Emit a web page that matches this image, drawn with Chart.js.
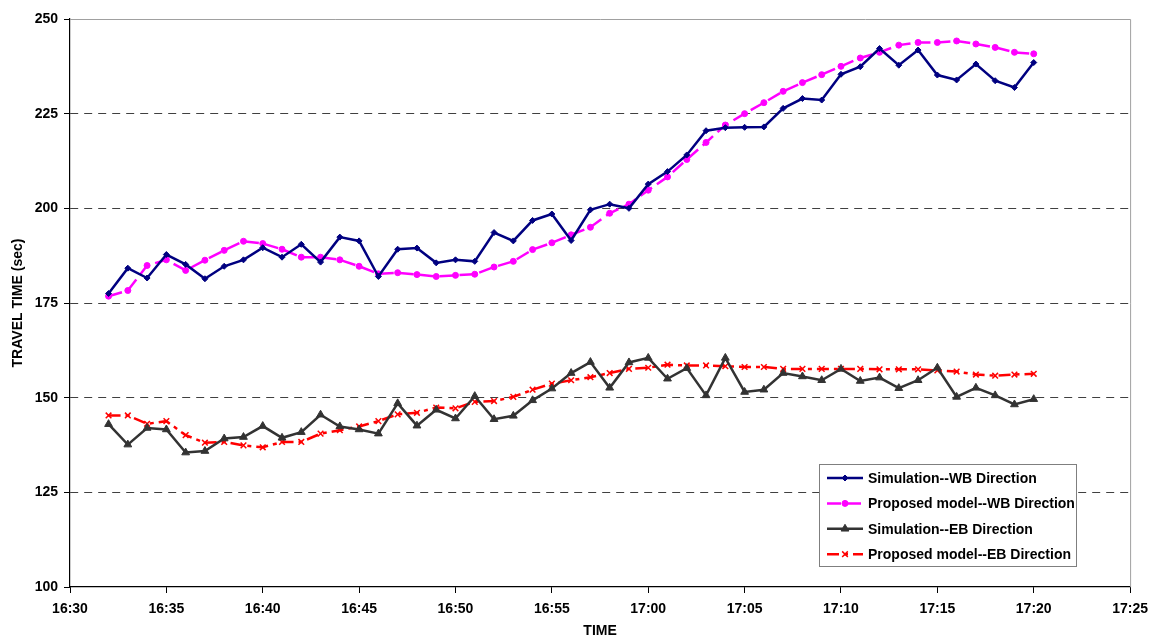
<!DOCTYPE html>
<html>
<head>
<meta charset="utf-8">
<title>Travel time</title>
<script src="https://cdn.jsdelivr.net/npm/chart.js@4/dist/chart.umd.min.js"></script>
<style>
  html, body { margin: 0; padding: 0; background: #fff; }
  #wrap { width: 1156px; height: 640px; }
</style>
</head>
<body>
<div id="wrap"><canvas id="grafico" width="1156" height="640"></canvas></div>
<script>
const times = [
  "16:32", "16:33", "16:34", "16:35", "16:36", "16:37", "16:38", "16:39",
  "16:40", "16:41", "16:42", "16:43", "16:44", "16:45", "16:46", "16:47",
  "16:48", "16:49", "16:50", "16:51", "16:52", "16:53", "16:54", "16:55",
  "16:56", "16:57", "16:58", "16:59", "17:00", "17:01", "17:02", "17:03",
  "17:04", "17:05", "17:06", "17:07", "17:08", "17:09", "17:10", "17:11",
  "17:12", "17:13", "17:14", "17:15", "17:16", "17:17", "17:18", "17:19",
  "17:20"
];

const wbSim = [
  177.5, 184.2, 181.6, 187.8, 185.2, 181.4, 184.7, 186.4,
  189.6, 187.1, 190.5, 185.8, 192.4, 191.4, 182.0, 189.2,
  189.5, 185.6, 186.4, 186.0, 193.6, 191.4, 196.8, 198.5,
  191.5, 199.6, 201.1, 200.0, 206.4, 209.7, 214.1, 220.5,
  221.3, 221.4, 221.5, 226.4, 229.0, 228.6, 235.4, 237.4,
  242.2, 237.8, 241.8, 235.2, 233.9, 238.1, 233.7, 231.9,
  238.5
];
const wbModel = [
  176.8, 178.3, 184.9, 186.4, 183.6, 186.3, 188.9, 191.3,
  190.7, 189.2, 187.1, 187.1, 186.4, 184.7, 182.7, 183.0,
  182.5, 182.0, 182.3, 182.6, 184.5, 186.0, 189.1, 190.9,
  193.0, 195.0, 198.7, 201.1, 204.8, 208.3, 212.9, 217.4,
  222.0, 225.0, 227.9, 230.9, 233.2, 235.3, 237.5, 239.7,
  241.2, 243.1, 243.8, 243.8, 244.2, 243.4, 242.5, 241.2,
  240.8
];
const ebSim = [
  143.0, 137.6, 142.0, 141.6, 135.5, 135.9, 139.2, 139.6,
  142.5, 139.4, 140.9, 145.5, 142.4, 141.6, 140.5, 148.5,
  142.6, 146.8, 144.5, 150.4, 144.3, 145.2, 149.3, 152.4,
  156.5, 159.4, 152.6, 159.3, 160.5, 155.0, 157.8, 150.6,
  160.5, 151.5, 152.1, 156.5, 155.6, 154.6, 157.6, 154.4,
  155.3, 152.5, 154.6, 157.9, 150.2, 152.6, 150.6, 148.2,
  149.6
];
const ebModel = [
  145.3, 145.3, 143.1, 143.8, 140.1, 138.1, 138.3, 137.4,
  136.9, 138.3, 138.3, 140.5, 141.4, 142.4, 143.8, 145.6,
  146.0, 147.4, 147.2, 148.9, 149.1, 150.2, 152.1, 153.7,
  154.6, 155.4, 156.5, 157.6, 157.9, 158.7, 158.5, 158.5,
  158.3, 158.1, 158.1, 157.6, 157.6, 157.6, 157.6, 157.6,
  157.5, 157.5, 157.5, 157.2, 156.9, 156.1, 155.8, 156.1,
  156.3
];

const seriesNames = [
  "Simulation--WB Direction",
  "Proposed model--WB Direction",
  "Simulation--EB Direction",
  "Proposed model--EB Direction"
];

const xTicks = ["16:30", "16:35", "16:40", "16:45", "16:50", "16:55",
                "17:00", "17:05", "17:10", "17:15", "17:20", "17:25"];
const yTicks = [100, 125, 150, 175, 200, 225, 250];

const FONT = "'Liberation Sans', Arial, sans-serif";

function toMin(s) {
  const p = s.split(":");
  return parseInt(p[0], 10) * 60 + parseInt(p[1], 10);
}
function fmtMin(m) {
  const h = Math.floor(m / 60);
  const mm = m % 60;
  return h + ":" + (mm < 10 ? "0" : "") + mm;
}
function points(values) {
  return times.map((t, i) => ({ x: toMin(t), y: values[i] }));
}

// light grey frame on top and right of the plot
const framePlugin = {
  id: "frame",
  beforeDatasetsDraw(chart) {
    const { ctx, chartArea: a } = chart;
    ctx.save();
    ctx.strokeStyle = "#a0a0a0";
    ctx.lineWidth = 1;
    ctx.beginPath();
    ctx.moveTo(a.left, a.top + 0.5);
    ctx.lineTo(a.right + 0.5, a.top + 0.5);
    ctx.lineTo(a.right + 0.5, a.bottom);
    ctx.stroke();
    ctx.restore();
  }
};

function marker(ctx, ds, x, y) {
  const opts = {
    pointStyle: ds.pointStyle,
    radius: ds.pointRadius,
    rotation: 0,
    borderWidth: ds.pointBorderWidth
  };
  ctx.save();
  ctx.setLineDash([]);
  ctx.fillStyle = ds.pointBackgroundColor;
  ctx.strokeStyle = ds.pointBorderColor;
  ctx.lineWidth = ds.pointBorderWidth;
  if (Chart.helpers && Chart.helpers.drawPoint) {
    Chart.helpers.drawPoint(ctx, opts, x, y);
  } else {
    ctx.beginPath();
    ctx.arc(x, y, ds.pointRadius, 0, Math.PI * 2);
    ctx.fill();
  }
  ctx.restore();
}

// boxed legend sitting inside the plot, lower right
const boxLegend = {
  id: "boxLegend",
  afterDraw(chart) {
    const ctx = chart.ctx;
    const box = { x: 819.5, y: 464.5, w: 257, h: 102 };
    ctx.save();
    ctx.fillStyle = "#fff";
    ctx.fillRect(box.x, box.y, box.w, box.h);
    ctx.strokeStyle = "#7f7f7f";
    ctx.lineWidth = 1;
    ctx.strokeRect(box.x, box.y, box.w, box.h);
    ctx.font = "bold 14px " + FONT;
    ctx.textBaseline = "middle";
    ctx.textAlign = "left";
    chart.data.datasets.forEach((ds, i) => {
      const y = 478 + i * 25.4;
      ctx.save();
      ctx.strokeStyle = ds.borderColor;
      ctx.lineWidth = ds.borderWidth;
      ctx.setLineDash(ds.borderDash || []);
      ctx.beginPath();
      ctx.moveTo(827, y);
      ctx.lineTo(863, y);
      ctx.stroke();
      ctx.restore();
      marker(ctx, ds, 845, y);
      ctx.fillStyle = "#000";
      ctx.fillText(ds.label, 868, y + 1);
    });
    ctx.restore();
  }
};

const chart = new Chart(document.getElementById("grafico"), {
  type: "line",
  data: {
    datasets: [
      {
        label: seriesNames[0],
        data: points(wbSim),
        borderColor: "#000080",
        borderWidth: 2.5,
        pointStyle: "rectRot",
        pointRadius: 3,
        pointBorderWidth: 1,
        pointBackgroundColor: "#000080",
        pointBorderColor: "#000080"
      },
      {
        label: seriesNames[1],
        data: points(wbModel),
        borderColor: "#ff00ff",
        borderWidth: 2.5,
        borderDash: [14, 6],
        pointStyle: "circle",
        pointRadius: 3,
        pointBorderWidth: 1,
        pointBackgroundColor: "#ff00ff",
        pointBorderColor: "#ff00ff"
      },
      {
        label: seriesNames[2],
        data: points(ebSim),
        borderColor: "#333333",
        borderWidth: 2.5,
        pointStyle: "triangle",
        pointRadius: 4.5,
        pointBorderWidth: 1,
        pointBackgroundColor: "#333333",
        pointBorderColor: "#333333"
      },
      {
        label: seriesNames[3],
        data: points(ebModel),
        borderColor: "#ff0000",
        borderWidth: 2.5,
        borderDash: [12, 5, 4, 5],
        pointStyle: "crossRot",
        pointRadius: 4,
        pointBorderWidth: 1.5,
        pointBackgroundColor: "#ff0000",
        pointBorderColor: "#ff0000"
      }
    ]
  },
  options: {
    responsive: false,
    animation: false,
    devicePixelRatio: 1,
    layout: { padding: { top: 19, right: 22, bottom: 0, left: 0 } },
    elements: { line: { tension: 0 } },
    plugins: {
      legend: { display: false },
      tooltip: { enabled: false }
    },
    scales: {
      x: {
        type: "linear",
        min: toMin(xTicks[0]),
        max: toMin(xTicks[xTicks.length - 1]),
        afterFit(scale) { scale.height = 53; },
        afterBuildTicks(scale) {
          scale.ticks = xTicks.map(t => ({ value: toMin(t) }));
        },
        ticks: {
          callback: v => fmtMin(v),
          color: "#000",
          padding: 8,
          maxRotation: 0,
          autoSkip: false,
          font: { family: FONT, size: 14, weight: "bold" }
        },
        grid: {
          drawOnChartArea: false,
          drawTicks: true,
          tickLength: 6,
          tickColor: "#000"
        },
        border: { display: true, color: "#000", width: 1.2 },
        title: {
          display: true,
          text: "TIME",
          color: "#000",
          padding: { top: 0, bottom: 0 },
          font: { family: FONT, size: 14, weight: "bold" }
        }
      },
      y: {
        min: yTicks[0],
        max: yTicks[yTicks.length - 1],
        afterFit(scale) { scale.width = 70; },
        afterBuildTicks(scale) {
          scale.ticks = yTicks.map(v => ({ value: v }));
        },
        ticks: {
          color: "#000",
          padding: 6,
          font: { family: FONT, size: 14, weight: "bold" }
        },
        grid: {
          color: ctx => (ctx.tick && ctx.tick.value === yTicks[0]) ? "rgba(0,0,0,0)" : "#404040",
          lineWidth: 1,
          drawTicks: true,
          tickLength: 6,
          tickColor: "#000",
          tickBorderDash: []
        },
        border: { display: true, color: "#000", width: 1.2, dash: [8, 6] },
        title: {
          display: true,
          text: "TRAVEL TIME (sec)",
          color: "#000",
          padding: { top: 10, bottom: 0 },
          font: { family: FONT, size: 14, weight: "bold" }
        }
      }
    }
  },
  plugins: [framePlugin, boxLegend]
});
</script>
</body>
</html>
